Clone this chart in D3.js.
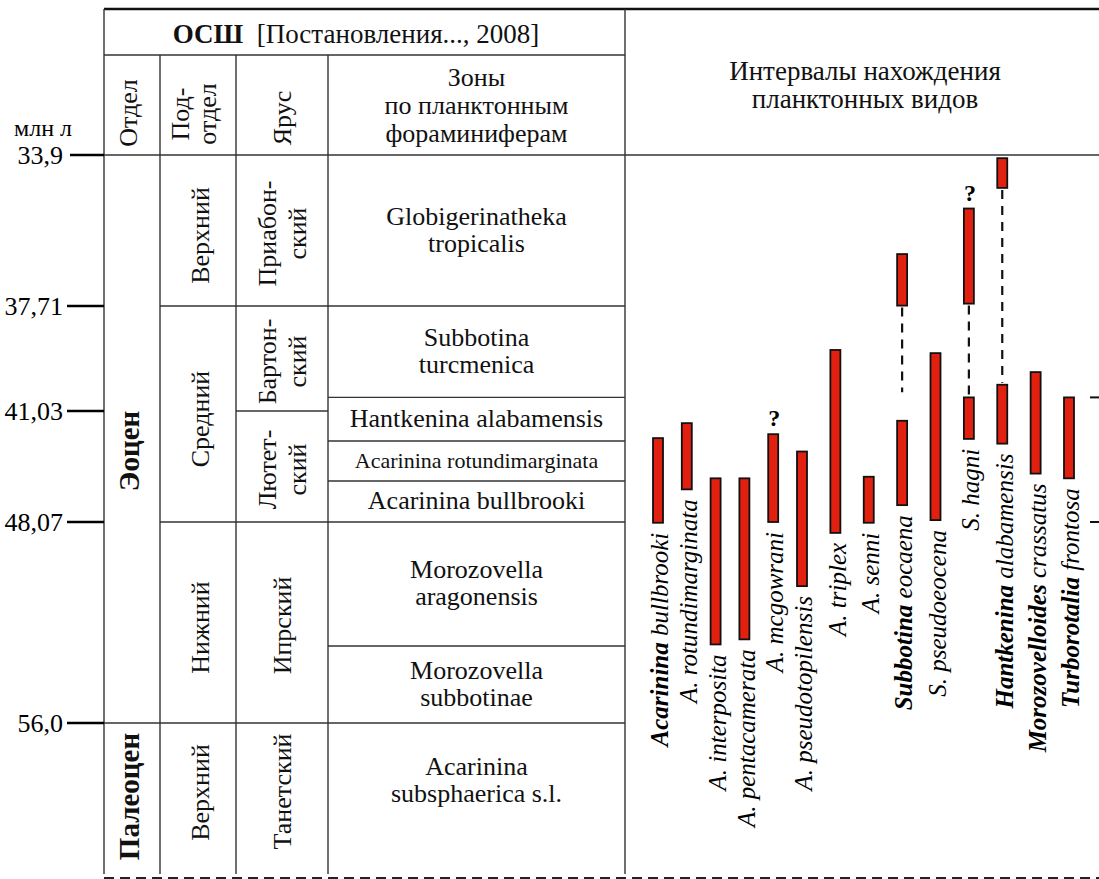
<!DOCTYPE html>
<html>
<head>
<meta charset="utf-8">
<script src="https://cdn.jsdelivr.net/npm/d3@7"></script>
<style>
  body { margin: 0; background: #fff; }
</style>
</head>
<body>
<svg width="1099" height="879" font-family="Liberation Serif, Times New Roman, DejaVu Serif, serif"></svg>
<script>
// возрастные рубежи, млн лет
const ageTicks = [33.9, 37.71, 41.03, 48.07, 56.0];
const ageLabels = ["33,9", "37,71", "41,03", "48,07", "56,0"];
const baseAge = 59.2; // низ таблицы обрезан

const divisions = [
  { name: ["Эоцен"], top: 33.9, base: 56.0 },
  { name: ["Палеоцен"], top: 56.0, base: baseAge }
];
const subdivisions = [
  { name: ["Верхний"], top: 33.9, base: 37.71 },
  { name: ["Средний"], top: 37.71, base: 48.07 },
  { name: ["Нижний"], top: 48.07, base: 56.0 },
  { name: ["Верхний"], top: 56.0, base: baseAge }
];
const stages = [
  { name: ["Приабон-", "ский"], top: 33.9, base: 37.71 },
  { name: ["Бартон-", "ский"], top: 37.71, base: 41.03 },
  { name: ["Лютет-", "ский"], top: 41.03, base: 48.07 },
  { name: ["Ипрский"], top: 48.07, base: 56.0 },
  { name: ["Танетский"], top: 56.0, base: baseAge }
];
const zones = [
  { name: ["Globigerinatheka", "tropicalis"], top: 33.9, base: 37.71 },
  { name: ["Subbotina", "turcmenica"], top: 37.71, base: 40.6 },
  { name: ["Hantkenina alabamensis"], top: 40.6, base: 42.93 },
  { name: ["Acarinina rotundimarginata"], top: 42.93, base: 45.47, small: true },
  { name: ["Acarinina bullbrooki"], top: 45.47, base: 48.07 },
  { name: ["Morozovella", "aragonensis"], top: 48.07, base: 52.96 },
  { name: ["Morozovella", "subbotinae"], top: 52.96, base: 56.0 },
  { name: ["Acarinina", "subsphaerica s.l."], top: 56.0, base: baseAge }
];

// виды (род полужирным, если не сокращён)
const species = [
  "Acarinina bullbrooki", "A. rotundimarginata", "A. interposita", "A. pentacamerata",
  "A. mcgowrani", "A. pseudotopilensis", "A. triplex", "A. senni",
  "Subbotina eocaena", "S. pseudoeocena", "S. hagni", "Hantkenina alabamensis",
  "Morozovelloides crassatus", "Turborotalia frontosa"
];
// [вид, верх, низ] — интервалы нахождения
const intervals = [
  ["Acarinina bullbrooki", 42.75, 48.1],
  ["A. rotundimarginata", 41.8, 46.0],
  ["A. interposita", 45.3, 52.9],
  ["A. pentacamerata", 45.3, 52.7],
  ["A. mcgowrani", 42.5, 48.07],
  ["A. pseudotopilensis", 43.6, 50.6],
  ["A. triplex", 39.1, 48.5],
  ["A. senni", 45.2, 48.1],
  ["Subbotina eocaena", 36.4, 37.7],
  ["Subbotina eocaena", 41.65, 47.0],
  ["S. pseudoeocena", 39.2, 47.95],
  ["S. hagni", 35.25, 37.65],
  ["S. hagni", 40.6, 42.8],
  ["Hantkenina alabamensis", 33.98, 34.73],
  ["Hantkenina alabamensis", 40.2, 43.1],
  ["Morozovelloides crassatus", 39.8, 45.0],
  ["Turborotalia frontosa", 40.6, 45.3]
];
const gaps = [
  ["Subbotina eocaena", 37.7, 40.5],
  ["S. hagni", 37.65, 40.6],
  ["Hantkenina alabamensis", 34.73, 40.2]
];
const queried = ["A. mcgowrani", "S. hagni"];
const edgeMarks = [40.6, 48.07];

const W = 1099;
const svg = d3.select("svg");
const colX = [104, 160, 236, 328, 625, W];

const y = d3.scaleLinear()
  .domain([...ageTicks, baseAge])
  .range([155, 306, 411, 522, 723, 878]);

// сокращённые Acarinina стоят плотнее
const slot = d3.scaleLinear()
  .domain([0, 5, species.length - 1])
  .range([658, 802, 1069]);
const x = d => slot(species.indexOf(d));

const line = (g, x1, y1, x2, y2) => g.append("line")
  .attr("x1", x1).attr("y1", y1).attr("x2", x2).attr("y2", y2);

// сетка таблицы
const grid = svg.append("g").attr("stroke", "#333").attr("stroke-width", 1.4);
line(grid, colX[0], 9, W, 9).attr("stroke", "#111").attr("stroke-width", 2.6);
line(grid, colX[0], 55, colX[4], 55);
line(grid, colX[0], y(ageTicks[0]), W, y(ageTicks[0]));
[[colX[0], 9], [colX[1], 55], [colX[2], 55], [colX[3], 55], [colX[4], 9]]
  .forEach(([cx, top]) => line(grid, cx, top, cx, y(baseAge) - 4));

const columns = [divisions, subdivisions, stages, zones];
columns.forEach((cells, i) => {
  cells.filter(c => c.top !== ageTicks[0])
    .forEach(c => line(grid, colX[i], y(c.top), colX[i + 1], y(c.top)));
});

line(svg, colX[0], y(baseAge), W, y(baseAge))
  .attr("stroke", "#222").attr("stroke-width", 2).attr("stroke-dasharray", "10,6");

// шкала возраста
const axis = svg.append("g");
ageTicks.forEach((a, i) => {
  line(axis, i === 0 ? 70 : 67, y(a), colX[0], y(a)).attr("stroke", "#000").attr("stroke-width", 2.6);
  axis.append("text")
    .attr("x", 63).attr("y", y(a))
    .attr("dy", "0.35em")
    .attr("text-anchor", "end")
    .attr("font-size", 26)
    .text(ageLabels[i]);
});
axis.append("text").attr("x", 14).attr("y", 136).attr("font-size", 24).text("млн л");

// заголовки
const head = svg.append("g").attr("fill", "#111");
const osh = head.append("text")
  .attr("x", 356).attr("y", 43)
  .attr("text-anchor", "middle").attr("font-size", 27);
osh.append("tspan").attr("font-weight", "bold").text("ОСШ");
osh.append("tspan").text("  [Постановления..., 2008]").attr("xml:space", "preserve");

function vtext(g, cx, cy, lines, size, lh, weight) {
  const t = g.append("text")
    .attr("transform", `translate(${cx},${cy}) rotate(-90)`)
    .attr("text-anchor", "middle")
    .attr("font-size", size)
    .attr("font-weight", weight || null);
  lines.forEach((s, k) => t.append("tspan")
    .attr("x", 0)
    .attr("y", (k - (lines.length - 1) / 2) * lh)
    .attr("dy", "0.35em")
    .text(s));
  return t;
}

vtext(head, 128, 113, ["Отдел"], 26, 26);
vtext(head, 193, 114, ["Под-", "отдел"], 26, 27);
vtext(head, 282, 118, ["Ярус"], 26, 26);

[["Зоны", 86], ["по планктонным", 114], ["фораминиферам", 142]].forEach(([s, by]) =>
  head.append("text").attr("x", (colX[3] + colX[4]) / 2).attr("y", by)
    .attr("text-anchor", "middle").attr("font-size", 26).text(s));
[["Интервалы нахождения", 80], ["планктонных видов", 108]].forEach(([s, by]) =>
  head.append("text").attr("x", 865).attr("y", by)
    .attr("text-anchor", "middle").attr("font-size", 27).text(s));

// подписи ячеек (нижние ячейки обрезаны — текст чуть выше центра)
const body = svg.append("g").attr("fill", "#111");
const mid = (c, lift) => (y(c.top) + y(c.base)) / 2 - (c.base === baseAge ? lift : 0);

divisions.forEach((c, i) => vtext(body, (colX[0] + colX[1]) / 2 - 3, mid(c, 4) + (i === 0 ? 12 : 0), c.name, 29, 30, "bold"));
subdivisions.forEach(c => vtext(body, (colX[1] + colX[2]) / 2 + 2, mid(c, 13) + 5, c.name, 26, 30));
stages.forEach(c => vtext(body, (colX[2] + colX[3]) / 2, mid(c, 12) + 3, c.name, 26, 30));

zones.forEach(c => {
  const n = c.name.length, lh = 27;
  const t = body.append("text")
    .attr("text-anchor", "middle")
    .attr("font-size", c.small ? 22 : 26);
  c.name.forEach((s, k) => t.append("tspan")
    .attr("x", (colX[3] + colX[4]) / 2)
    .attr("y", mid(c, 20) + (k - (n - 1) / 2) * lh)
    .attr("dy", "0.3em")
    .text(s));
});

// интервалы видов
const chart = svg.append("g");

chart.selectAll("line.gap")
  .data(gaps)
  .join("line")
  .attr("class", "gap")
  .attr("x1", d => x(d[0])).attr("x2", d => x(d[0]))
  .attr("y1", d => y(d[1]) + 2).attr("y2", d => y(d[2]) - 2)
  .attr("stroke", "#111").attr("stroke-width", 2.2)
  .attr("stroke-dasharray", "9,7");

const barW = 10;
chart.selectAll("rect")
  .data(intervals)
  .join("rect")
  .attr("x", d => x(d[0]) - barW / 2)
  .attr("width", barW)
  .attr("y", d => y(d[1]))
  .attr("height", d => y(d[2]) - y(d[1]))
  .attr("fill", "#e2200f")
  .attr("stroke", "#111")
  .attr("stroke-width", 1.8);

chart.selectAll("text.q")
  .data(queried)
  .join("text")
  .attr("class", "q")
  .attr("x", d => x(d) + 1)
  .attr("y", d => y(d3.min(intervals.filter(r => r[0] === d), r => r[1])) - 8)
  .attr("text-anchor", "middle")
  .attr("font-size", 24)
  .attr("font-weight", "bold")
  .text("?");

const labels = chart.selectAll("text.sp")
  .data(species)
  .join("text")
  .attr("class", "sp")
  .attr("transform", d => {
    const low = d3.max(intervals.filter(r => r[0] === d), r => r[2]);
    return `translate(${x(d) + 2},${y(low) + 10}) rotate(-90)`;
  })
  .attr("text-anchor", "end")
  .attr("dy", "0.33em")
  .attr("font-size", 25)
  .attr("font-style", "italic");

labels.each(function (d) {
  const [genus, ...rest] = d.split(" ");
  const t = d3.select(this);
  if (genus.endsWith(".")) {
    t.append("tspan").text(d);
  } else {
    t.append("tspan").attr("font-weight", "bold").text(genus);
    t.append("tspan").text(" " + rest.join(" "));
  }
});

// засечки соседней колонки у правого края
edgeMarks.forEach(a => line(chart, 1090, y(a), W, y(a)).attr("stroke", "#111").attr("stroke-width", 2));
</script>
</body>
</html>
